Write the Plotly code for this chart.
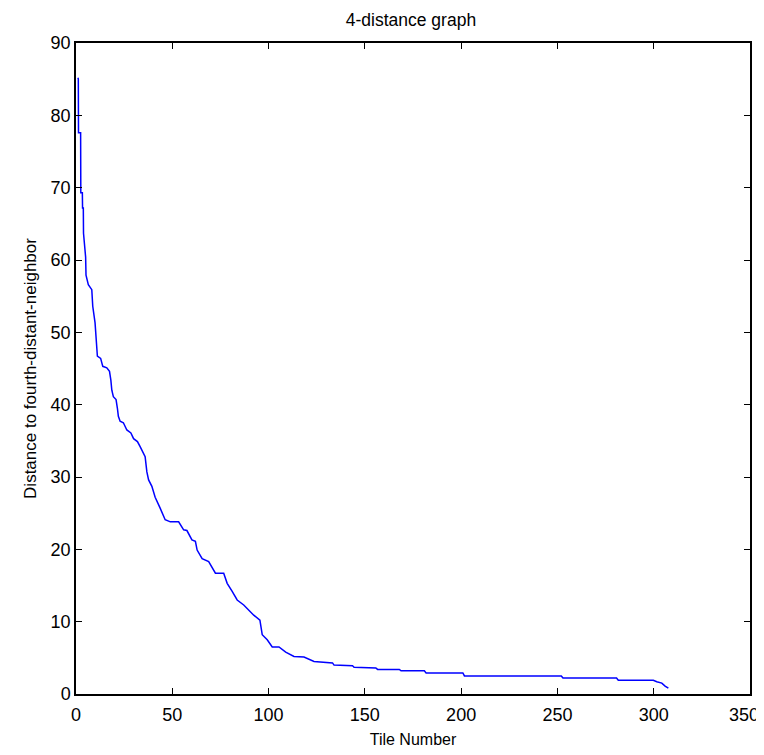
import plotly.graph_objects as go

# Vertices of the 4-distance curve (tile number, distance)
tile_number = [1.0, 1.2, 1.3, 2.4, 2.5, 3.3, 3.4, 3.8, 3.9, 5.0, 5.2, 6.4, 8.2, 8.7, 9.9, 10.4,
               11.1, 12.8, 13.9, 16.0, 17.4, 18.1, 18.6, 19.4, 20.8, 21.5, 22.0, 22.9, 24.6,
               26.4, 28.5, 29.9, 31.9, 33.3, 34.7, 35.9, 36.8, 37.7, 39.4, 41.1, 43.7, 46.3,
               49.0, 53.3, 55.9, 57.6, 60.2, 62.0, 62.9, 65.5, 68.9, 72.4, 76.7, 78.5, 81.1,
               83.7, 87.1, 89.7, 92.3, 95.5, 96.7, 99.3, 101.9, 105.4, 108.9, 113.2, 118.4,
               123.6, 133.2, 134.0, 143.6, 144.4, 155.7, 156.6, 167.9, 168.8, 180.9, 181.8,
               200.9, 201.7, 252.0, 252.9, 280.7, 281.6, 299.8, 301.6, 304.2, 305.9, 307.6]
distance = [85.2, 85.0, 77.6, 77.6, 69.3, 69.3, 67.2, 67.2, 63.7, 60.4, 57.9, 56.6, 55.9, 53.6,
            51.3, 49.0, 46.7, 46.4, 45.3, 45.1, 44.6, 43.4, 42.0, 41.1, 40.7, 39.5, 38.4, 37.7,
            37.5, 36.5, 36.1, 35.3, 34.9, 34.2, 33.5, 32.8, 30.7, 29.6, 28.7, 27.2, 25.7, 24.1,
            23.8, 23.8, 22.7, 22.6, 21.3, 21.1, 19.9, 18.7, 18.3, 16.7, 16.7, 15.3, 14.2, 13.0,
            12.3, 11.6, 10.9, 10.2, 8.2, 7.5, 6.5, 6.5, 5.8, 5.2, 5.1, 4.5, 4.3, 4.0, 3.9, 3.7,
            3.6, 3.4, 3.4, 3.2, 3.2, 2.9, 2.9, 2.5, 2.5, 2.2, 2.2, 1.9, 1.9, 1.7, 1.5, 1.1, 0.8]

x_ticks = [0, 50, 100, 150, 200, 250, 300, 350]
x_tick_labels = ["0", "50", "100", "150", "200", "250", "300", ""]
last_x_tick = 350
last_x_label = "350"   # drawn as an annotation, nudged left like the reference
y_ticks = [0, 10, 20, 30, 40, 50, 60, 70, 80, 90]

FONT = "Liberation Sans Narrow, Liberation Sans, Arial, sans-serif"

fig = go.Figure()
fig.add_trace(go.Scatter(x=tile_number, y=distance, mode="lines",
                         line=dict(color="#0000ff", width=1.5), showlegend=False))

axis_common = dict(showline=True, linecolor="black", linewidth=1.5, mirror="ticks",
                   ticks="inside", ticklen=6, tickwidth=1.2, tickcolor="black",
                   showgrid=False, zeroline=False, automargin=False,
                   ticklabeloverflow="allow",
                   tickfont=dict(family=FONT, size=18, color="black"))

# the page body adds an 8px offset, so the figure is sized to compensate
fig.update_layout(
    width=756, height=747,
    paper_bgcolor="white", plot_bgcolor="white",
    margin=dict(l=68, r=14, t=35, b=61),
    title=dict(text="4-distance graph", x=0.533, xanchor="center", y=0.984, yanchor="middle",
               font=dict(family=FONT, size=17.5, color="black")),
    xaxis=dict(range=[0, 350], tickvals=x_ticks, ticktext=x_tick_labels,
               ticklabelstandoff=4,
               title=dict(text="Tile Number", standoff=9,
                          font=dict(family=FONT, size=16, color="black")),
               **axis_common),
    yaxis=dict(range=[0, 90], tickvals=y_ticks, ticktext=[str(v) for v in y_ticks],
               title=dict(text="Distance to fourth-distant-neighbor", standoff=10,
                          font=dict(family=FONT, size=17, color="black")),
               **axis_common),
)

fig.add_annotation(x=last_x_tick, xref="x", y=0, yref="paper", text=last_x_label,
                   showarrow=False, xanchor="center", yanchor="middle",
                   xshift=-6, yshift=-21,
                   font=dict(family=FONT, size=18, color="black"))

fig.write_html("out.html")
